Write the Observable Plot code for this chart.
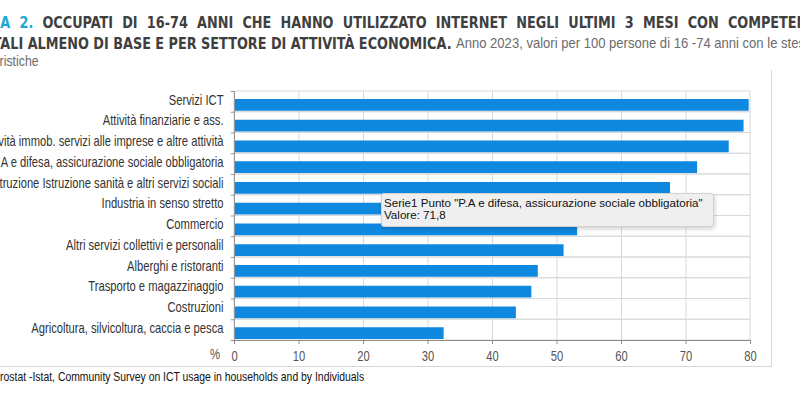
<!DOCTYPE html>
<html><head><meta charset="utf-8">
<script src="https://cdn.jsdelivr.net/npm/d3@7"></script>
<script src="https://cdn.jsdelivr.net/npm/@observablehq/plot@0.6"></script>
<style>
html,body{margin:0;padding:0;width:800px;height:398px;overflow:hidden;background:#fff;position:relative;}
.line{position:absolute;left:0;white-space:nowrap;transform-origin:0 0;}
.bold{font:bold 15px "DejaVu Sans Condensed","DejaVu Sans",sans-serif;color:#3f3f3f;line-height:18px;transform:scaleX(0.95);}
.t1{top:14px;word-spacing:5px;}
.t2{top:35px;}
.sub{font:15px "Liberation Sans",sans-serif;color:#6b6b6b;line-height:18px;transform:scaleX(0.87);}
.s2{top:34px;}
.t3{top:52px;transform:scaleX(0.82);}
.num{color:#1da7d3;}
#chart{position:absolute;left:0;top:80px;}
#box{position:absolute;left:-2px;top:70px;width:773px;height:296px;border-right:1px solid #d6d6d6;border-bottom:1px solid #d6d6d6;}
#pct{position:absolute;left:210px;top:346px;font:14.5px "Liberation Sans",sans-serif;color:#555;transform:scaleX(0.78);transform-origin:0 0;}
.cap{top:370px;font:13px "Liberation Sans",sans-serif;color:#111;line-height:14px;transform:scaleX(0.8);}
#tip{position:absolute;left:381px;top:193px;width:329px;height:29px;padding:3px 0 0 2px;background:#efefef;border:1px solid #d2d2d2;border-radius:3px;box-shadow:1px 2px 4px rgba(0,0,0,0.18);font:11.6px "Liberation Sans",sans-serif;color:#111;line-height:11.5px;white-space:nowrap;}
</style></head><body>
<div id="box"></div>
<div class="line bold t1"><span class="pre">FIGUR</span><span class="num">A 2.</span> OCCUPATI DI 16-74 ANNI CHE HANNO UTILIZZATO INTERNET NEGLI ULTIMI 3 MESI CON COMPETENZE</div>
<div class="line bold t2" id="t2"><span class="pre">DIGIT</span>ALI ALMENO DI BASE E PER SETTORE DI ATTIVITÀ ECONOMICA.</div>
<div class="line sub s2" id="s2">Anno 2023, valori per 100 persone di 16 -74 anni con le stesse</div>
<div class="line t3 sub"><span class="pre">caratte</span>ristiche</div>
<div id="chart"></div>
<div id="pct">%</div>
<div class="line cap"><span class="pre">Fonte: Eu</span>rostat -Istat, Community Survey on ICT usage in households and by Individuals</div>
<div id="tip">Serie1 Punto "P.A e difesa, assicurazione sociale obbligatoria"<br>Valore: 71,8</div>
<script>
const sectors = [
  "Servizi ICT",
  "Attività finanziarie e ass.",
  "Attività immob. servizi alle imprese e altre attività",
  "P.A e difesa, assicurazione sociale obbligatoria",
  "Istruzione Istruzione sanità e altri servizi sociali",
  "Industria in senso stretto",
  "Commercio",
  "Altri servizi collettivi e personalil",
  "Alberghi e ristoranti",
  "Trasporto e magazzinaggio",
  "Costruzioni",
  "Agricoltura, silvicoltura, caccia e pesca"
];
const values = [79.8, 79.0, 76.7, 71.8, 67.6, 60.0, 53.2, 51.1, 47.1, 46.1, 43.7, 32.5];
const xTicks = [0, 10, 20, 30, 40, 50, 60, 70, 80];

const data = sectors.map((s, i) => ({sector: s, value: values[i]}));
const H = 290, MT = 11, MB = 30;
const step = (H - MT - MB) / sectors.length;

const chart = Plot.plot({
  width: 800,
  height: H,
  marginLeft: 234,
  marginRight: 50,
  marginTop: MT,
  marginBottom: MB,
  style: {fontFamily: "'Liberation Sans',sans-serif", fontSize: "14.5px", background: "transparent", color: "#333"},
  x: {domain: [0, 80], ticks: xTicks, label: null},
  y: {domain: sectors, padding: 0, round: false, label: null},
  marks: [
    Plot.ruleX(xTicks.slice(1, -1), {stroke: "#d9d9d9"}),
    Plot.barX(data, {y: "sector", x1: 0, x2: 80, fill: "none", stroke: "#d9d9d9"}),
    Plot.barX(data, {y: "sector", x: "value", fill: "#0f89e0", insetTop: 8, insetBottom: 1}),
    Plot.ruleY(sectors, {y: d => d, x1: -0.5, x2: 0, dy: -step / 2, stroke: "#999"}),
    Plot.ruleY(sectors.slice(-1), {y: d => d, x1: -0.5, x2: 80, dy: step / 2, stroke: "#8a8a8a"}),
    Plot.ruleX([0], {stroke: "#999"}),
    Plot.axisX({ticks: xTicks, tickSize: 4, tickPadding: 6, stroke: "#8a8a8a", fill: "#555", label: null}),
    Plot.axisY({tickSize: 0, tickPadding: 11, dy: -2, fill: "#333", label: null})
  ]
});
document.getElementById("chart").appendChild(chart);

// narrow (condensed) rendering of the axis texts
chart.querySelectorAll("text").forEach(t => {
  const L = t.getComputedTextLength();
  if (L > 0) {
    t.setAttribute("textLength", (L * 0.772).toFixed(2));
    t.setAttribute("lengthAdjust", "spacingAndGlyphs");
  }
});

document.querySelectorAll(".line").forEach(el => {
  const p = el.querySelector(".pre");
  if (p) el.style.left = (-p.getBoundingClientRect().width) + "px";
});
const t2 = document.getElementById("t2").getBoundingClientRect();
document.getElementById("s2").style.left = (t2.right + 5) + "px";
</script>
</body></html>
